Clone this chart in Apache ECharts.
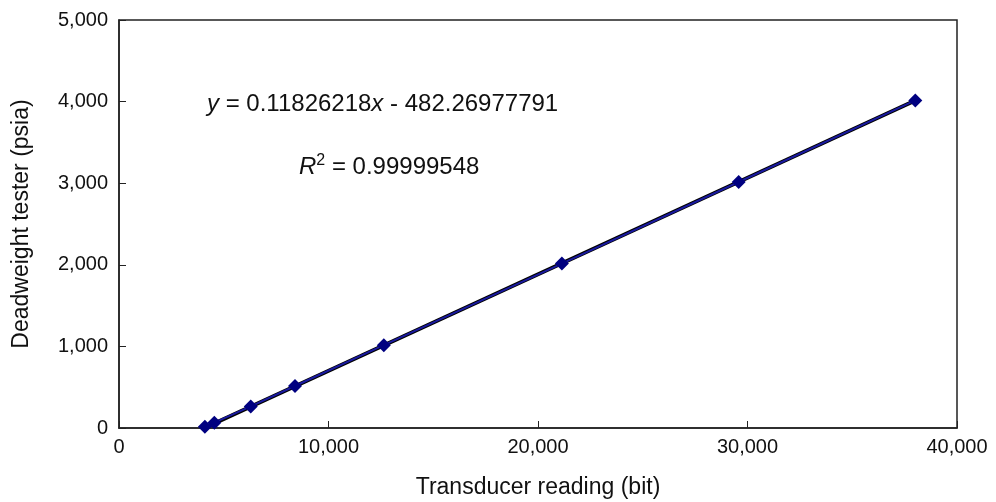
<!DOCTYPE html>
<html>
<head>
<meta charset="utf-8">
<script src="https://cdn.jsdelivr.net/npm/echarts@6/dist/echarts.min.js"></script>
<style>html,body{margin:0;padding:0;background:#fff;}#c{width:996px;height:502px;}</style>
</head>
<body>
<div id="c"></div>
<script>
var readings = [4100, 4550, 6290, 8400, 12640, 21140, 29580, 38010];
var pressures = [15, 65, 265, 515, 1015, 2015, 3015, 4015];
var slope = 0.11826218;
var intercept = -482.26977791;
var xTitle = 'Transducer reading (bit)';
var yTitle = 'Deadweight tester (psia)';

var pts = readings.map(function(x, i){ return [x, pressures[i]]; });
var xMin = readings[0], xMax = readings[readings.length - 1];
var trend = [[xMin, slope * xMin + intercept], [xMax, slope * xMax + intercept]];

var font = 'Liberation Sans, Arial, sans-serif';
var chart = echarts.init(document.getElementById('c'));
chart.setOption({
  animation: false,
  backgroundColor: '#fff',
  grid: { left: 119, right: 39, top: 20, bottom: 74, containLabel: false, outerBoundsMode: 'none',
          show: true, borderColor: '#222', borderWidth: 1.5, backgroundColor: 'transparent' },
  xAxis: {
    type: 'value', min: 0, max: 40000, interval: 10000,
    name: xTitle, nameLocation: 'middle', nameGap: 48,
    nameTextStyle: { fontFamily: font, fontSize: 23, color: '#111' },
    axisLine: { show: true, lineStyle: { color: '#222', width: 1.5 } },
    axisTick: { show: true, inside: true, length: 7, lineStyle: { color: '#222' } },
    axisLabel: { fontFamily: font, fontSize: 20, color: '#111', margin: 9, formatter: function(v){ return v.toLocaleString('en-US'); } },
    splitLine: { show: false }
  },
  yAxis: {
    type: 'value', min: 0, max: 5000, interval: 1000,
    name: yTitle, nameLocation: 'middle', nameGap: 86,
    nameTextStyle: { fontFamily: font, fontSize: 23, color: '#111' },
    axisLine: { show: true, lineStyle: { color: '#222', width: 1.5 } },
    axisTick: { show: true, inside: true, length: 7, lineStyle: { color: '#222' } },
    axisLabel: { fontFamily: font, fontSize: 20, color: '#111', margin: 11, formatter: function(v){ return v.toLocaleString('en-US'); } },
    splitLine: { show: false }
  },
  graphic: [
    { type: 'text', x: 207, y: 104, style: {
      text: '{i|y}{n| = 0.11826218}{i|x}{n| - 482.26977791}',
      rich: { i: { fontStyle: 'italic', fontFamily: font, fontSize: 24, fill: '#111' },
              n: { fontFamily: font, fontSize: 24, fill: '#111' } },
      verticalAlign: 'middle', fill: '#111' } },
    { type: 'text', x: 299, y: 167, style: {
      text: '{i|R}{s|2}{n| = 0.99999548}',
      rich: { i: { fontStyle: 'italic', fontFamily: font, fontSize: 24, fill: '#111' },
              n: { fontFamily: font, fontSize: 24, fill: '#111' },
              s: { fontFamily: font, fontSize: 16, fill: '#111', verticalAlign: 'top', padding: [0,0,12,0] } },
      verticalAlign: 'middle', fill: '#111' } }
  ],
  series: [
    { type: 'line', data: trend, symbol: 'none', lineStyle: { color: '#000', width: 4 }, z: 2 },
    { type: 'line', data: pts, symbol: 'diamond', symbolSize: 14,
      itemStyle: { color: '#000080' }, lineStyle: { color: '#1a1aa0', width: 2 }, z: 3 }
  ]
});
</script>
</body>
</html>
